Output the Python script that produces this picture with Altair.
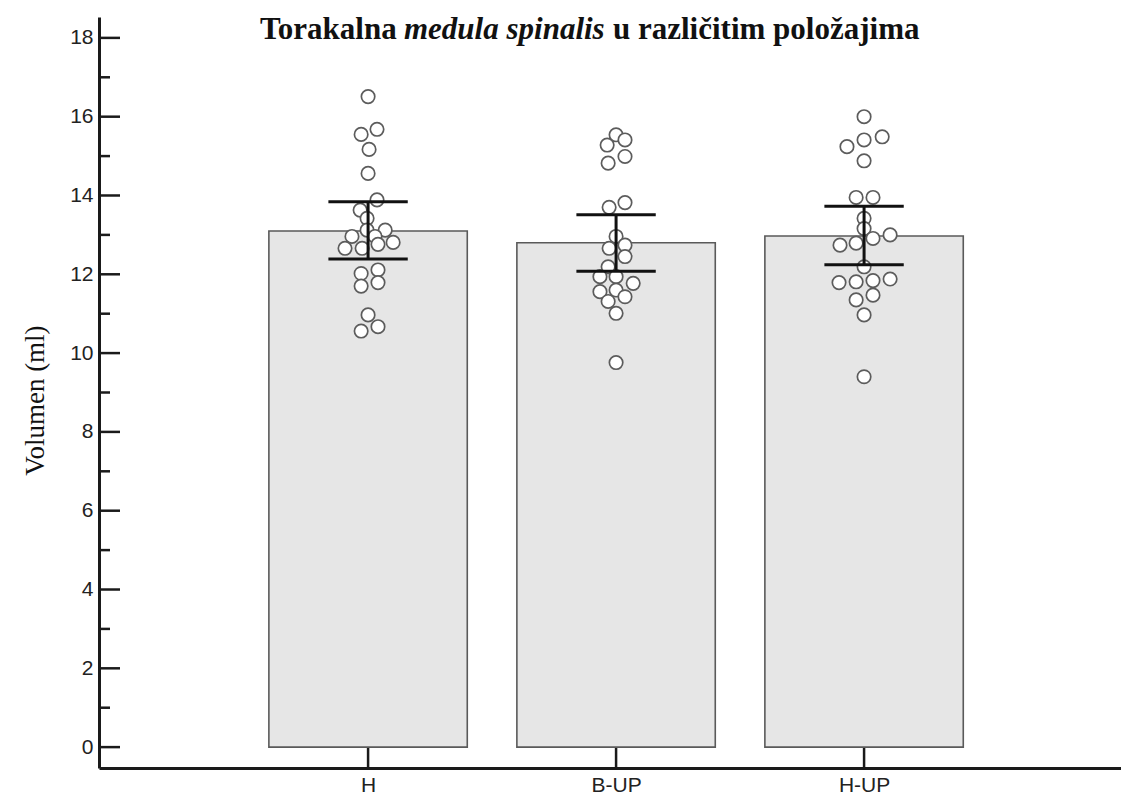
import altair as alt
import pandas as pd

# ---- data ----
categories = ["H", "B-UP", "H-UP"]
means = [13.10, 12.80, 12.97]
ci_low = [12.39, 12.08, 12.24]
ci_high = [13.84, 13.51, 13.73]

h_values = [16.51, 15.68, 15.55, 15.17, 14.56, 13.89, 13.63, 13.42, 13.12, 13.12, 12.96, 12.96,
            12.81, 12.76, 12.66, 12.66, 12.11, 12.02, 11.79, 11.70, 10.97, 10.67, 10.56]
h_jitter = [0, .036, -.028, .004, 0, .036, -.032, -.004, -.004, .069, -.065, .028,
            .101, .040, -.093, -.024, .040, -.028, .040, -.028, 0, .040, -.028]

bup_values = [15.54, 15.41, 15.28, 14.99, 14.82, 13.82, 13.70, 12.96, 12.74, 12.66, 12.45, 12.19,
              11.94, 11.94, 11.77, 11.60, 11.56, 11.43, 11.31, 11.01, 9.76]
bup_jitter = [0, .036, -.036, .036, -.032, .036, -.028, 0, .036, -.028, .036, -.032,
              -.065, 0, .069, 0, -.065, .036, -.032, 0, 0]

hup_values = [16.00, 15.49, 15.41, 15.24, 14.88, 13.95, 13.95, 13.42, 13.16, 13.00, 12.91, 12.79,
              12.74, 12.19, 11.88, 11.84, 11.81, 11.79, 11.47, 11.35, 10.97, 9.40]
hup_jitter = [0, .073, 0, -.069, 0, -.032, .036, 0, 0, .105, .036, -.032,
              -.097, 0, .105, .036, -.032, -.101, .036, -.032, 0, 0]

y_major = [0, 2, 4, 6, 8, 10, 12, 14, 16, 18]
y_minor = [1, 3, 5, 7, 9, 11, 13, 15, 17]

title_parts = ["Torakalna", "medula spinalis", "u različitim položajima"]
y_title = "Volumen (ml)"

# ---- tables ----
bar_half = 0.4
cap_half = 0.16
summary = pd.DataFrame({
    "cat": categories,
    "pos": [i + 1 for i in range(len(categories))],
    "mean": means,
    "lo": ci_low,
    "hi": ci_high,
})
summary["left"] = summary["pos"] - bar_half
summary["right"] = summary["pos"] + bar_half
summary["capl"] = summary["pos"] - cap_half
summary["capr"] = summary["pos"] + cap_half
summary["zero"] = 0.0

pts = []
for i, (vals, jit) in enumerate([(h_values, h_jitter), (bup_values, bup_jitter), (hup_values, hup_jitter)]):
    for v, j in zip(vals, jit):
        pts.append({"cat": categories[i], "x": i + 1 + j, "value": v})
points = pd.DataFrame(pts)

major_df = pd.DataFrame({"v": y_major})
minor_df = pd.DataFrame({"v": y_minor})

label_expr = " : ".join(
    [f"datum.value == {i + 1} ? '{c}'" for i, c in enumerate(categories[:-1])]
) + f" : '{categories[-1]}'"

AXIS_COLOR = "#1a1a1a"
xscale = alt.Scale(domain=[-0.085, 4.036], nice=False, zero=False)
yscale = alt.Scale(domain=[-0.53, 18.53], nice=False, zero=False)
xaxis = alt.Axis(values=[1, 2, 3], labelExpr=label_expr, title=None, ticks=False, grid=False,
                 domainColor=AXIS_COLOR, domainWidth=3, labelFont="Liberation Sans",
                 labelFontSize=21, labelColor="#222222", labelPadding=6)
yaxis = alt.Axis(values=y_major, ticks=False, grid=False, domainColor=AXIS_COLOR, domainWidth=3,
                 labelFont="Liberation Sans", labelFontSize=21, labelColor="#222222",
                 labelPadding=6, title=y_title, titleFont="Liberation Serif", titleFontSize=27,
                 titleFontWeight="normal", titleColor="#111111", titleX=-64, titleY=383,
                 titleAngle=270, titleAlign="center", titleBaseline="middle")

bars = alt.Chart(summary).mark_bar(fill="#e6e6e6", stroke="#5a5a5a", strokeWidth=1.6).encode(
    x=alt.X("left:Q", scale=xscale, axis=xaxis),
    x2="right:Q",
    y=alt.Y("zero:Q", scale=yscale, axis=yaxis),
    y2="mean:Q",
)

dots = alt.Chart(points).mark_point(shape="circle", filled=False, fill="white", fillOpacity=1,
                                    stroke="#5c5c5c", strokeWidth=1.7, size=180, opacity=1).encode(
    x=alt.X("x:Q", scale=xscale, axis=xaxis),
    y=alt.Y("value:Q", scale=yscale, axis=yaxis),
)

err_v = alt.Chart(summary).mark_rule(color="#111111", strokeWidth=3).encode(
    x=alt.X("pos:Q", scale=xscale, axis=xaxis),
    y=alt.Y("lo:Q", scale=yscale, axis=yaxis),
    y2="hi:Q",
)
cap_lo = alt.Chart(summary).mark_rule(color="#111111", strokeWidth=3).encode(
    x=alt.X("capl:Q", scale=xscale, axis=xaxis), x2="capr:Q",
    y=alt.Y("lo:Q", scale=yscale, axis=yaxis),
)
cap_hi = alt.Chart(summary).mark_rule(color="#111111", strokeWidth=3).encode(
    x=alt.X("capl:Q", scale=xscale, axis=xaxis), x2="capr:Q",
    y=alt.Y("hi:Q", scale=yscale, axis=yaxis),
)

major_ticks = alt.Chart(major_df).mark_rule(color=AXIS_COLOR, strokeWidth=2.5).encode(
    x=alt.value(0), x2=alt.value(21),
    y=alt.Y("v:Q", scale=yscale, axis=yaxis),
)
minor_ticks = alt.Chart(minor_df).mark_rule(color=AXIS_COLOR, strokeWidth=2.5).encode(
    x=alt.value(0), x2=alt.value(11),
    y=alt.Y("v:Q", scale=yscale, axis=yaxis),
)
x_ticks = alt.Chart(summary).mark_rule(color=AXIS_COLOR, strokeWidth=2.5).encode(
    x=alt.X("pos:Q", scale=xscale, axis=xaxis),
    y=alt.value(751), y2=alt.value(731),
)

TITLE_SIZE = 31
t1 = alt.Chart(pd.DataFrame({"t": [title_parts[0]]})).mark_text(
    font="Liberation Serif", fontSize=TITLE_SIZE, fontWeight="bold", align="left", baseline="middle", color="#111111"
).encode(text="t:N", x=alt.value(161), y=alt.value(13))
t2 = alt.Chart(pd.DataFrame({"t": [title_parts[1]]})).mark_text(
    font="Liberation Serif", fontSize=TITLE_SIZE, fontWeight="bold", fontStyle="italic", align="left",
    baseline="middle", color="#111111"
).encode(text="t:N", x=alt.value(305), y=alt.value(13))
t3 = alt.Chart(pd.DataFrame({"t": [title_parts[2]]})).mark_text(
    font="Liberation Serif", fontSize=TITLE_SIZE, fontWeight="bold", align="left", baseline="middle", color="#111111"
).encode(text="t:N", x=alt.value(514), y=alt.value(13))

chart = alt.layer(bars, dots, err_v, cap_lo, cap_hi, major_ticks, minor_ticks, x_ticks, t1, t2, t3).properties(
    width=1022, height=751,
    autosize=alt.AutoSizeParams(type="none"),
    padding={"left": 91, "top": 9, "right": 0, "bottom": 29},
    background="white",
).configure_view(stroke=None)

chart.save("out.html", embed_options={"renderer": "svg", "actions": False})
